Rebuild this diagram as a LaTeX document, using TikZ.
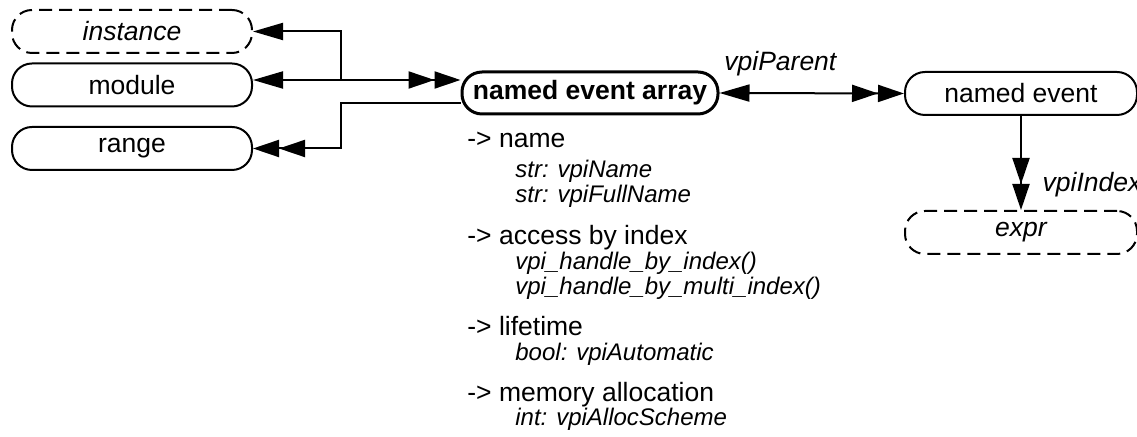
\documentclass[tikz,border=0pt]{standalone}
\usepackage{fontspec}
\setmainfont{Liberation Sans}
\usetikzlibrary{arrows.meta}
\begin{document}
\begin{tikzpicture}[x=.5pt,y=-.5pt,
	hd/.tip={Triangle[length=15pt,width=8.5pt]},
	hdd/.tip={Triangle[length=13pt,width=8.5pt]Triangle[length=13pt,width=8.5pt]},
	obj/.style={draw,line width=1pt,rounded corners=10pt,minimum width=120pt,minimum height=21.5pt,inner sep=0pt,font=\fontsize{13.25}{15}\selectfont},
	opt/.style={obj,dash pattern=on 6.5pt off 3.5pt,font=\fontsize{13.25}{15}\selectfont\itshape},
	wire/.style={line width=1pt},
	lbl/.style={font=\fontsize{13.25}{15}\selectfont\itshape},
	hdr/.style={anchor=base west,inner sep=0pt,font=\fontsize{13.25}{15}\selectfont},
	sub/.style={hdr,font=\fontsize{12}{14}\selectfont\itshape}]
	\useasboundingbox (0,0) rectangle (1137,437);
	\node[opt] (instance) at (132,31.5) {instance};
	\node[obj] (module) at (132,85) {module};
	\node[obj] (range) at (132,148.5) {range};
	\node[obj,line width=1.5pt,minimum width=128pt,minimum height=21pt,font=\fontsize{13.25}{15}\selectfont\bfseries] (nea) at (590,93) {named event array};
	\node[obj,minimum width=116pt] (ne) at (1021,93.5) {named event};
	\node[opt,minimum width=116pt] (expr) at (1021,232.5) {expr};
	\path (341,80) coordinate (j1) (341,103) coordinate (j2);
	% connectors
	\draw[wire,-hd] (j1) |- (instance.east);
	\draw[wire,hd-hdd] (module.east |- j1) -- (nea.west |- j1);
	\draw[wire,-hdd] (nea.west |- j2) -- (j2) |- (range.east);
	\draw[wire,hd-hdd] (nea.east) -- node[lbl,pos=.33,above=4.5pt]{vpiParent} (ne.west);
	\draw[wire,-hdd] (ne.south) -- node[lbl,pos=.73,right=7pt]{vpiIndex} (expr.north);
	% properties
	\foreach \t/\y/\n in {-> name/148/1, -> access by index/245/2, -> lifetime/336/3, -> memory allocation/402/4}
		\node[hdr] (h\n) at (467,\y) {\t};
	\foreach \t/\y/\n in {str: vpiName/178/1, str: vpiFullName/203/2, vpi\_handle\_by\_index()/270/3, vpi\_handle\_by\_multi\_index()/295/4, bool: vpiAutomatic/361/5, int: vpiAllocScheme/426/6}
		\node[sub] (s\n) at (515,\y) {\t};
\end{tikzpicture}
\end{document}
